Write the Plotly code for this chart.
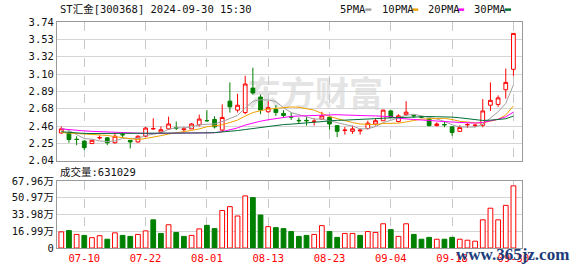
import plotly.graph_objects as go

dates = ["07-05","07-08","07-09","07-10","07-11","07-12","07-15","07-16","07-17","07-18","07-19",
         "07-22","07-23","07-24","07-25","07-26","07-29","07-30","07-31",
         "08-01","08-02","08-05","08-06","08-07","08-08","08-09","08-12","08-13","08-14","08-15",
         "08-16","08-19","08-20","08-21","08-22","08-23","08-26","08-27","08-28","08-29","08-30",
         "09-02","09-03","09-04","09-05","09-06","09-09","09-10","09-11","09-12","09-13",
         "09-18","09-19","09-20","09-23","09-24","09-25","09-26","09-27","09-30"]

open_ = [2.38, 2.38, 2.303, 2.28, 2.25, 2.32, 2.32, 2.26, 2.36, 2.29,
         2.27, 2.34, 2.43, 2.39, 2.43, 2.443, 2.42, 2.43, 2.48, 2.533,
         2.545, 2.415, 2.77, 2.66, 2.63, 2.93, 2.82, 2.64, 2.67, 2.62,
         2.58, 2.535, 2.535, 2.52, 2.55, 2.57, 2.47, 2.41, 2.40, 2.405,
         2.435, 2.49, 2.53, 2.65, 2.52, 2.605, 2.595, 2.578, 2.55, 2.47,
         2.483, 2.455, 2.40, 2.48, 2.47, 2.475, 2.72, 2.73, 2.91, 3.16]
high = [2.46, 2.40, 2.34, 2.29, 2.29, 2.35, 2.33, 2.38, 2.38, 2.29,
        2.35, 2.455, 2.56, 2.46, 2.58, 2.52, 2.455, 2.50, 2.605, 2.66,
        2.585, 2.73, 3.00, 2.86, 3.08, 3.18, 2.85, 2.77, 2.72, 2.66,
        2.63, 2.57, 2.58, 2.56, 2.64, 2.59, 2.47, 2.455, 2.47, 2.435,
        2.53, 2.56, 2.665, 2.665, 2.61, 2.77, 2.605, 2.585, 2.56, 2.51,
        2.52, 2.46, 2.475, 2.50, 2.49, 2.795, 3.00, 2.84, 3.17, 3.60]
low = [2.37, 2.26, 2.23, 2.17, 2.25, 2.30, 2.23, 2.25, 2.32, 2.19,
       2.26, 2.33, 2.42, 2.38, 2.42, 2.415, 2.385, 2.43, 2.46, 2.515,
       2.435, 2.40, 2.63, 2.63, 2.61, 2.85, 2.61, 2.63, 2.59, 2.565,
       2.54, 2.50, 2.47, 2.47, 2.54, 2.42, 2.33, 2.36, 2.37, 2.36,
       2.42, 2.47, 2.53, 2.565, 2.51, 2.59, 2.565, 2.56, 2.46, 2.46,
       2.45, 2.345, 2.39, 2.44, 2.45, 2.45, 2.65, 2.70, 2.80, 3.08]
close = [2.43, 2.30, 2.30, 2.20, 2.29, 2.323, 2.26, 2.34, 2.357, 2.27,
         2.34, 2.44, 2.433, 2.42, 2.49, 2.44, 2.43, 2.49, 2.55, 2.53,
         2.455, 2.57, 2.70, 2.72, 2.98, 2.87, 2.66, 2.69, 2.63, 2.595,
         2.575, 2.53, 2.53, 2.525, 2.59, 2.49, 2.40, 2.415, 2.43, 2.415,
         2.50, 2.53, 2.66, 2.57, 2.59, 2.635, 2.59, 2.575, 2.47, 2.49,
         2.48, 2.385, 2.447, 2.483, 2.475, 2.65, 2.78, 2.81, 3.00, 3.60]

ma5 = [2.44, 2.41, 2.36, 2.31, 2.304, 2.282, 2.274, 2.282, 2.313, 2.309,
       2.313, 2.349, 2.367, 2.38, 2.424, 2.444, 2.442, 2.454, 2.48, 2.488,
       2.491, 2.519, 2.561, 2.595, 2.685, 2.768, 2.786, 2.784, 2.766, 2.689,
       2.63, 2.604, 2.572, 2.551, 2.55, 2.533, 2.507, 2.484, 2.465, 2.43,
       2.432, 2.458, 2.507, 2.535, 2.57, 2.597, 2.609, 2.592, 2.572, 2.552,
       2.521, 2.48, 2.454, 2.456, 2.453, 2.487, 2.566, 2.639, 2.743, 2.968]
ma10 = [2.385, 2.38, 2.375, 2.37, 2.365, 2.36, 2.35, 2.335, 2.32, 2.307,
        2.298, 2.312, 2.325, 2.347, 2.367, 2.379, 2.396, 2.411, 2.43, 2.456,
        2.468, 2.481, 2.508, 2.538, 2.587, 2.63, 2.653, 2.673, 2.681, 2.687,
        2.699, 2.695, 2.678, 2.659, 2.62, 2.582, 2.556, 2.528, 2.508, 2.49,
        2.483, 2.483, 2.496, 2.50, 2.50, 2.515, 2.534, 2.55, 2.554, 2.561,
        2.559, 2.545, 2.523, 2.514, 2.503, 2.504, 2.523, 2.547, 2.60, 2.711]
ma20 = [2.43, 2.42, 2.41, 2.405, 2.40, 2.395, 2.39, 2.385, 2.38, 2.377,
        2.375, 2.374, 2.374, 2.374, 2.375, 2.376, 2.377, 2.378, 2.38, 2.381,
        2.383, 2.396, 2.416, 2.442, 2.477, 2.504, 2.524, 2.542, 2.555, 2.572,
        2.583, 2.588, 2.593, 2.598, 2.603, 2.606, 2.604, 2.60, 2.594, 2.589,
        2.591, 2.589, 2.587, 2.579, 2.56, 2.548, 2.545, 2.539, 2.531, 2.526,
        2.521, 2.514, 2.509, 2.507, 2.501, 2.509, 2.528, 2.548, 2.577, 2.636]
ma30 = [2.395, 2.385, 2.378, 2.374, 2.373, 2.373, 2.373, 2.374, 2.375, 2.376,
        2.376, 2.377, 2.377, 2.378, 2.378, 2.379, 2.379, 2.38, 2.38, 2.381,
        2.384, 2.39, 2.40, 2.41, 2.422, 2.435, 2.448, 2.46, 2.472, 2.483,
        2.488, 2.496, 2.503, 2.514, 2.524, 2.53, 2.535, 2.537, 2.54, 2.544,
        2.55, 2.553, 2.56, 2.565, 2.569, 2.575, 2.581, 2.583, 2.581, 2.579,
        2.58, 2.574, 2.566, 2.558, 2.541, 2.533, 2.537, 2.541, 2.554, 2.587]

volume_wan = [16.4, 17.7, 13.8, 12.8, 10.5, 12.5, 8.9, 15.4, 12.8, 11.8,
              13.8, 17.4, 28.6, 14.8, 23.6, 15.8, 11.8, 12.8, 19.4, 23.0,
              19.7, 38.1, 42.0, 32.5, 52.9, 51.2, 33.5, 21.7, 20.7, 19.7,
              16.7, 11.8, 12.8, 13.8, 22.7, 16.7, 10.8, 14.8, 14.8, 12.8,
              16.7, 15.8, 24.6, 18.7, 11.8, 24.6, 13.8, 8.9, 10.8, 8.9,
              8.9, 10.8, 8.9, 7.9, 6.9, 28.6, 40.4, 28.6, 43.3, 63.1029]
volume_up = [1,0,1,0,1,1,0,1,0,0,
             1,1,0,0,1,0,0,1,1,0,
             0,1,1,1,1,0,0,1,0,0,
             0,0,0,1,1,0,0,1,1,0,
             1,1,1,0,1,1,0,0,0,1,
             0,0,1,1,1,1,1,1,1,1]

price_ticks = [2.04, 2.2525, 2.465, 2.6775, 2.89, 3.1025, 3.315, 3.5275, 3.74]
price_labels = ["2.04", "2.25", "2.46", "2.68", "2.89", "3.10", "3.32", "3.53", "3.74"]
vol_ticks = [0, 16.99, 33.98, 50.97, 67.96]
vol_labels = ["0", "16.99万", "33.98万", "50.97万", "67.96万"]
date_labels = ["07-10", "07-22", "08-01", "08-13", "08-23", "09-04", "09-18", "09-30"]

RED = "#ff0000"
GREEN = "#008000"
x = list(range(len(dates)))
date_ticks = [dates.index(d) for d in date_labels]

fig = go.Figure()
fig.add_trace(go.Candlestick(
    x=x, open=open_, high=high, low=low, close=close,
    increasing=dict(line=dict(color=RED, width=1), fillcolor="white"),
    decreasing=dict(line=dict(color=GREEN, width=1), fillcolor=GREEN),
    whiskerwidth=0, hoverinfo="skip", xaxis="x", yaxis="y", showlegend=False))

ma_styles = [("5PMA", ma5, "#a0a0a0"), ("10PMA", ma10, "#f0a000"),
             ("20PMA", ma20, "#ff00ff"), ("30PMA", ma30, "#006f35")]
for name, vals, col in ma_styles:
    fig.add_trace(go.Scatter(x=x, y=vals, mode="lines", name=name,
                             line=dict(color=col, width=1), hoverinfo="skip",
                             xaxis="x", yaxis="y", showlegend=False))

fig.add_trace(go.Bar(
    x=x, y=volume_wan, width=0.62,
    marker=dict(color=["white" if u else GREEN for u in volume_up],
                line=dict(color=[RED if u else GREEN for u in volume_up], width=1)),
    hoverinfo="skip", xaxis="x2", yaxis="y2", showlegend=False))

L, R, T, B = 56, 56, 22, 21
W, H = 578, 276
PW, PH = W - L - R, H - T - B

def px(xp):
    return (xp - L) / PW

def py(yp):
    return 1 - (yp - T) / PH

price_dom = [py(165), 1]
vol_dom = [0, py(186)]
xr = [-0.56, 60.12]

common_x = dict(range=xr, tickvals=date_ticks, showgrid=True, gridcolor="#c8c8c8",
                griddash="dash", gridwidth=1, showline=True, linecolor="#999999",
                linewidth=1, mirror=True, zeroline=False, fixedrange=True)
fig.update_layout(
    width=W, height=H, margin=dict(l=L, r=R, t=T, b=B),
    paper_bgcolor="white", plot_bgcolor="white",
    font=dict(family="DejaVu Sans Mono, Noto Sans CJK SC", size=10.5, color="#111111"),
    xaxis=dict(**common_x, anchor="y", showticklabels=False, ticks="",
               rangeslider=dict(visible=False)),
    yaxis=dict(domain=price_dom, range=[2.04, 3.74], tickvals=price_ticks,
               ticktext=price_labels, showgrid=True, gridcolor="#d4d4d4",
               showline=True, linecolor="#999999", mirror=True, zeroline=False,
               ticks="", anchor="x", tickfont=dict(size=10.5, color="#111111")),
    xaxis2=dict(**common_x, anchor="y2", matches="x", ticktext=date_labels,
                ticks="", tickfont=dict(color=RED, size=10.5)),
    yaxis2=dict(domain=vol_dom, range=[0, 67.96], tickvals=vol_ticks,
                ticktext=vol_labels, showgrid=True, gridcolor="#d4d4d4",
                showline=True, linecolor="#999999", mirror=True, zeroline=False,
                ticks="", anchor="x2", tickfont=dict(size=10.5, color="#111111")),
    bargap=0.3,
)

shapes = [dict(type="rect", xref="paper", yref="paper", layer="below",
               x0=px(222), x1=px(407), y0=py(119), y1=py(79),
               line=dict(width=0), fillcolor="rgba(0,0,0,0)",
               label=dict(text="<b>东方财富</b>", textposition="middle center",
                          font=dict(family="Noto Sans CJK SC", size=34, color="#e4e4e4")))]
annotations = [
    dict(text="ST汇金[300368] 2024-09-30 15:30", x=px(57), y=py(9), xref="paper",
         yref="paper", xanchor="left", yanchor="middle", showarrow=False),
    dict(text="成交量:631029", x=px(57), y=py(177), xref="paper", yref="paper",
         xanchor="left", yanchor="middle", showarrow=False),
]
legend_pos = [(338, 365), (380, 412), (426, 458), (472, 505)]
for (name, _, col), (tx, mx) in zip(ma_styles, legend_pos):
    annotations.append(dict(text=name, x=px(tx), y=py(9), xref="paper", yref="paper",
                            xanchor="left", yanchor="middle", showarrow=False))
    shapes.append(dict(type="rect", xref="paper", yref="paper", x0=px(mx), x1=px(mx + 6),
                       y0=py(10.5), y1=py(8), fillcolor=col, line=dict(width=0)))
annotations.append(dict(text="<b>www.365jz.com</b>", x=px(571), y=py(262), xref="paper",
                        yref="paper", xanchor="right", yanchor="middle", showarrow=False,
                        font=dict(family="Liberation Serif", size=17, color="#1c3c7a")))
fig.update_layout(annotations=annotations, shapes=shapes)

fig.write_html("out.html")
